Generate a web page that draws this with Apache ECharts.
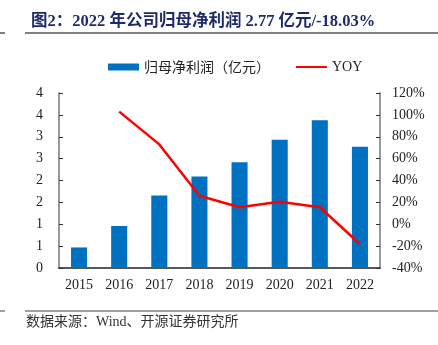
<!DOCTYPE html>
<html>
<head>
<meta charset="utf-8">
<script src="https://cdn.jsdelivr.net/npm/echarts@6/dist/echarts.min.js"></script>
<style>
  html, body { margin: 0; padding: 0; background: #fff; }
  #chart { width: 438px; height: 345px; }
</style>
</head>
<body>
<div id="chart"></div>
<script>
// Annual figures, 2015-2022
const years = ['2015', '2016', '2017', '2018', '2019', '2020', '2021', '2022'];
// Net profit attributable to parent (100m CNY)
const netProfit = [0.47, 0.96, 1.66, 2.09, 2.42, 2.93, 3.38, 2.77];
// Year-over-year growth (%)
const yoy = [null, 103, 73, 26, 15.5, 20.5, 15.5, -18.03];
// Left axis tick labels (rounded to integers, as printed)
const leftTickLabels = ['0', '1', '1', '2', '2', '3', '3', '4', '4'];

const serif = '"Liberation Serif", "Noto Sans CJK SC", serif';
const cjk = '"Noto Sans CJK SC", "Liberation Serif", sans-serif';

const chart = echarts.init(document.getElementById('chart'), null, { renderer: 'canvas' });

chart.setOption({
  animation: false,
  backgroundColor: '#fff',
  title: {
    text: '图2：2022 年公司归母净利润 2.77 亿元/-18.03%',
    left: 26,
    top: 8,
    textStyle: {
      fontFamily: serif,
      fontWeight: 'bold',
      fontSize: 16.5,
      color: '#1f2a6b'
    }
  },
  legend: {
    top: 55,
    left: 103,
    itemGap: 25,
    itemWidth: 31,
    itemHeight: 7,
    textStyle: { fontFamily: cjk, fontSize: 14, color: '#222' },
    data: [
      { name: '归母净利润（亿元）', icon: 'rect' },
      { name: 'YOY', itemStyle: { opacity: 0 }, textStyle: { fontFamily: serif, fontSize: 14 } }
    ]
  },
  grid: { left: 59, right: 58, top: 93, bottom: 77 },
  xAxis: {
    type: 'category',
    data: years,
    boundaryGap: true,
    axisLine: { lineStyle: { color: '#222', width: 1.5 } },
    axisTick: { inside: true, length: 4, lineStyle: { color: '#444' } },
    axisLabel: { fontFamily: serif, fontSize: 14, color: '#222', margin: 10 }
  },
  yAxis: [
    {
      type: 'value',
      min: 0,
      max: 4,
      interval: 0.5,
      splitLine: { show: false },
      axisLine: { show: true, lineStyle: { color: '#999', width: 2 } },
      axisTick: { show: true, inside: true, length: 4, lineStyle: { color: '#333' } },
      axisLabel: {
        fontFamily: serif,
        fontSize: 14,
        color: '#222',
        margin: 16,
        formatter: function (v) {
          return leftTickLabels[Math.round(v / 0.5)];
        }
      }
    },
    {
      type: 'value',
      min: -40,
      max: 120,
      interval: 20,
      splitLine: { show: false },
      axisLine: { show: true, lineStyle: { color: '#999', width: 2 } },
      axisTick: { show: true, inside: true, length: 4, lineStyle: { color: '#333' } },
      axisLabel: {
        fontFamily: serif,
        fontSize: 14,
        color: '#222',
        margin: 12,
        formatter: '{value}%'
      }
    }
  ],
  series: [
    {
      name: '归母净利润（亿元）',
      type: 'bar',
      data: netProfit,
      barWidth: '40%',
      itemStyle: { color: '#0070c0' }
    },
    {
      name: 'YOY',
      type: 'line',
      yAxisIndex: 1,
      data: yoy,
      symbol: 'none',
      lineStyle: { color: '#ff0000', width: 2.5 },
      itemStyle: { color: '#ff0000' }
    }
  ],
  graphic: [
    { type: 'line', shape: { x1: 0, y1: 33, x2: 5, y2: 33 }, style: { stroke: '#808080', lineWidth: 2 } },
    { type: 'line', shape: { x1: 25, y1: 33, x2: 438, y2: 33 }, style: { stroke: '#808080', lineWidth: 2 } },
    { type: 'line', shape: { x1: 0, y1: 311, x2: 5, y2: 311 }, style: { stroke: '#808080', lineWidth: 1.5 } },
    { type: 'line', shape: { x1: 25, y1: 311, x2: 438, y2: 311 }, style: { stroke: '#808080', lineWidth: 1.5 } },
    {
      type: 'text',
      left: 26,
      top: 315,
      style: {
        text: '数据来源：Wind、开源证券研究所',
        font: '14px ' + serif,
        fill: '#333'
      }
    }
  ]
});
</script>
</body>
</html>
